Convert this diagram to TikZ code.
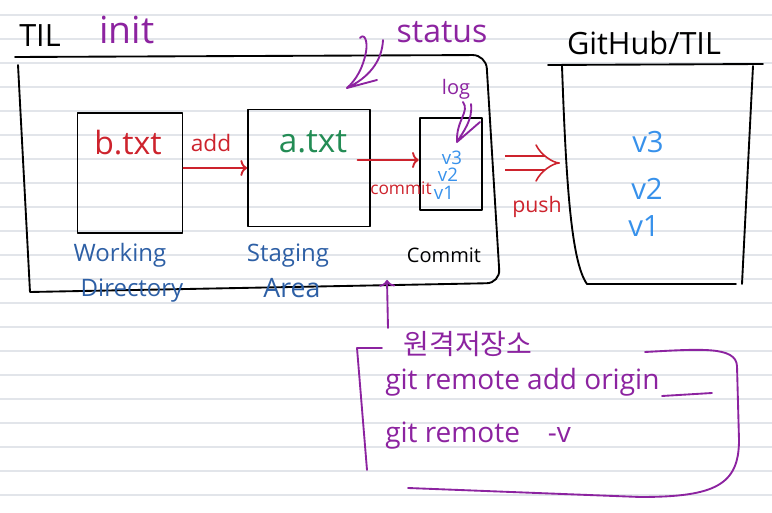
\documentclass[tikz,border=0pt]{standalone}
\usepackage{fontspec}
\setmainfont{Open Sans}
\newfontfamily\krfont{Noto Sans CJK KR}
\usetikzlibrary{arrows.meta}

\definecolor{penred}{RGB}{205,35,45}
\definecolor{pengreen}{RGB}{35,140,85}
\definecolor{penblue}{RGB}{45,95,165}
\definecolor{penlight}{RGB}{55,145,235}
\definecolor{penpurple}{RGB}{140,35,160}
\definecolor{ruled}{RGB}{226,229,234}

\tikzset{
  pen/.style={line width=1.4pt, line cap=round, line join=round},
  box/.style={pen, draw, inner sep=0pt},
  hand/.style={inner sep=0pt, anchor=base, font=\fontsize{#1}{#1}\selectfont},
  redarrow/.style={pen, penred, -{To[length=5pt,width=12pt]}},
}

\begin{document}
\begin{tikzpicture}[x=0.75pt, y=-0.75pt]
\useasboundingbox (0,0) rectangle (772,513);
% ruled page
\foreach \y in {15,39,...,495}
  \draw[ruled, line width=0.9pt] (0,\y) -- (772,\y);

% local repo
\draw[pen] (15,57) [rounded corners=10pt] -- (486,55) -- (500,283) [sharp corners] -- (30,292) -- (18,65);
\node[hand=23] (til) at (40,47) {TIL};
\node[hand=28, penpurple] (init) at (127,44) {init};
\node[hand=24, penpurple] (status) at (442,43) {status};

\node[box, minimum width=78.75pt, minimum height=90pt] (wd) at (130,173) {};
\node[box, minimum width=91.5pt, minimum height=87.75pt] (stage) at (309,168) {};
\node[box, minimum width=47pt, minimum height=69pt] (cbox) at (451,164) {};

\node[hand=24, penred] (btxt) at (128,155) {b.txt};
\node[hand=25, pengreen] (atxt) at (313,153) {a.txt};
\foreach \v/\x/\y in {3/452/165, 2/448/182, 1/444/200}
  \node[hand=14, penlight] (cv\v) at (\x,\y) {v\v};

\node[hand=18, penblue] (wdlabel) at (120,262) {Working};
\node[hand=18, penblue] (wdlabel2) at (132,297) {Directory};
\node[hand=18, penblue] (stlabel) at (288,262) {Staging};
\node[hand=20, penblue] (stlabel2) at (292,298) {Area};
\node[hand=15] (clabel) at (444,263) {Commit};

% add / commit
\draw[redarrow] (wd.east |- stage.west) -- (stage.west);
\node[hand=17, penred] (add) at (211,152) {add};
\draw[redarrow] ([xshift=-10pt, yshift=3pt]stage.east |- cbox.west) -- ([yshift=3pt]cbox.west);
\node[hand=13, penred] (commit) at (401,195) {commit};

% status, log
\coordinate (sttip) at (347,88);
\draw[pen, penpurple] (360,38) .. controls (364,33) and (368,40) .. (366,52) .. controls (363,68) and (356,80) .. (sttip);
\draw[pen, penpurple] (383,40) .. controls (382,62) and (368,78) .. (sttip) -- (377,80);
\node[hand=15, penpurple] (log) at (456,95) {log};
\coordinate (lgtip) at (457,142);
\draw[pen, penpurple] (463,102) .. controls (470,112) and (456,120) .. (lgtip);
\draw[pen, penpurple] (471,104) .. controls (473,120) and (463,132) .. (lgtip) -- (480,122);

% push
\coordinate (pushfrom) at (505,163);
\coordinate (pushto) at (560,163);
\draw[penred, double, double distance=9pt, line width=1.2pt, -{Implies}] (pushfrom) -- (pushto);
\node[hand=16, penred] (push) at (537,213) {push};

% remote repo
\draw[pen] (548,65) -- (763,64);
\draw[pen] (562,66) .. controls (566,180) and (571,262) .. (587,284) -- (736,284);
\draw[pen] (753,66) -- (742,284);
\node[hand=23] (github) at (644,55) {GitHub/TIL};
\foreach \v/\x/\y in {3/648/153, 2/647/200, 1/644/237}
  \node[hand=22, penlight] (gv\v) at (\x,\y) {v\v};

% remote commands
\coordinate (rtail) at (388,328);
\coordinate (rhead) at (387,280);
\draw[pen, penpurple, -{To[length=5pt,width=12pt]}] (rtail) -- (rhead);
\node[hand=21, penpurple, font=\krfont\fontsize{21}{21}\selectfont] (remote) at (468,355) {원격저장소};
\draw[pen, penpurple] (382,348) -- (357,348) -- (367,470);
\draw[pen, penpurple] (645,352) .. controls (700,349) and (736,346) .. (737,366) -- (739,440)
  .. controls (739,485) and (715,497) .. (640,497) -- (408,488);
\node[hand=21, penpurple, anchor=base west] (gitadd) at (385,390) {git remote add origin};
\draw[pen, penpurple] (662,396) -- (712,393);
\node[hand=21, penpurple, anchor=base west] (gitv) at (385,443) {git remote\quad-v};
\end{tikzpicture}
\end{document}
